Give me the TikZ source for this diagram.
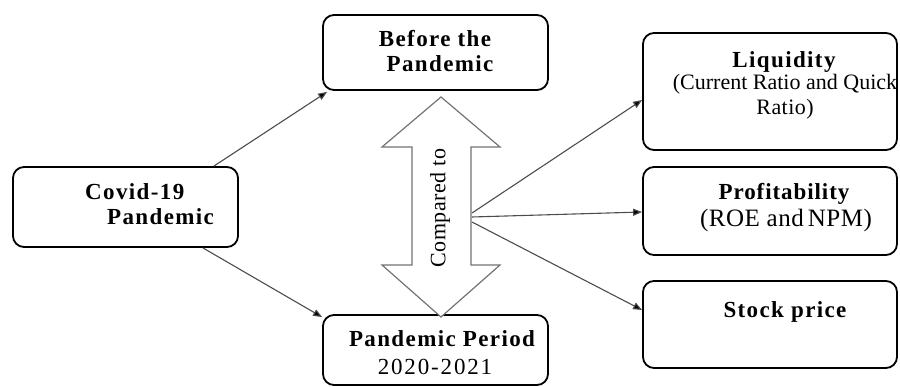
\documentclass[tikz,border=0pt]{standalone}
\usepackage{fontspec}
\setmainfont{Liberation Serif}
\newfontfamily\bsp[LetterSpace=6]{Liberation Serif}
\newfontfamily\rsp[LetterSpace=2]{Liberation Serif}
\usetikzlibrary{calc,arrows.meta}
\begin{document}
\begin{tikzpicture}[x=1pt,y=-1pt,
  box/.style={draw=black,line width=1.8pt,rounded corners=11pt,inner sep=0pt,fill=white},
  conn/.style={draw=black!70,line width=1.1pt,-{Triangle[length=9pt,width=7pt,fill=black]}},
  btxt/.style={font=\bsp\bfseries\fontsize{23}{26}\selectfont,inner sep=0pt,anchor=base},
  rtxt/.style={font=\rsp\fontsize{22}{26}\selectfont,inner sep=0pt,anchor=base},
  darrow/.style={draw=black!55,line width=1.2pt,fill=white,line join=miter}]
\useasboundingbox (0,0) rectangle (900,387);
% boxes
\node[box,minimum width=225pt,minimum height=80pt] (covid) at (125.5,207) {};
\node[box,minimum width=225pt,minimum height=75pt] (before) at (435.5,52.5) {};
\node[box,minimum width=225pt,minimum height=70pt] (period) at (435.5,350) {};
\node[box,minimum width=254pt,minimum height=117pt] (liq) at (770,91.5) {};
\node[box,minimum width=254pt,minimum height=88pt] (prof) at (770,211) {};
\node[box,minimum width=254pt,minimum height=87pt] (stock) at (770,324.5) {};
% double arrow
\draw[darrow] (441,97) -- (500,147) -- (471,147) -- (471,265) -- (500,265) -- (441,317)
  -- (382,265) -- (412,265) -- (412,147) -- (382,147) -- cycle;
\node[font=\rsp\fontsize{22}{24}\selectfont,rotate=90,inner sep=0pt] (cmp) at (440,208) {Compared to};
\coordinate (fan) at (472,217);
% texts
\node[btxt,anchor=base west] (t1) at (85,200) {Covid-19};
\node[btxt,anchor=base west] (t2) at (107,225) {Pandemic};
\node[btxt] (t3) at (435,47) {Before the};
\node[btxt] (t4) at (440,72) {Pandemic};
\node[btxt] (t5) at (442,347) {Pandemic Period};
\node[rtxt,font=\rsp\addfontfeature{LetterSpace=8}\fontsize{23}{26}\selectfont] (t6) at (435,375) {2020-2021};
\node[btxt] (t7) at (784,68) {Liquidity};
\node[rtxt,font=\fontsize{22}{26}\selectfont] (t8) at (785,90) {(Current Ratio and Quick};
\node[rtxt] (t9) at (785,115) {Ratio)};
\node[btxt,font=\bsp\addfontfeature{LetterSpace=4}\bfseries\fontsize{23}{26}\selectfont] (t10) at (784,200) {Profitability};
\node[rtxt,font=\rsp\fontsize{25}{28}\selectfont] (t11) at (786,227) {(ROE and\,NPM)};
\node[btxt] (t12) at (785,318) {Stock price};
% connectors
\draw[conn] ($(covid.north east)+(-25,0)$) -- ($(before.south west)+(5,1)$);
\draw[conn] ($(covid.south east)+(-36,0)$) -- ($(period.north west)+(0,3)$);
\draw[conn] ($(fan)+(0,-4)$) -- ($(liq.west)+(0,8.5)$);
\draw[conn] (fan) -- ($(prof.west)+(0,1)$);
\draw[conn] ($(fan)+(0,5)$) -- ($(stock.west)+(0,-14.5)$);
\end{tikzpicture}
\end{document}
